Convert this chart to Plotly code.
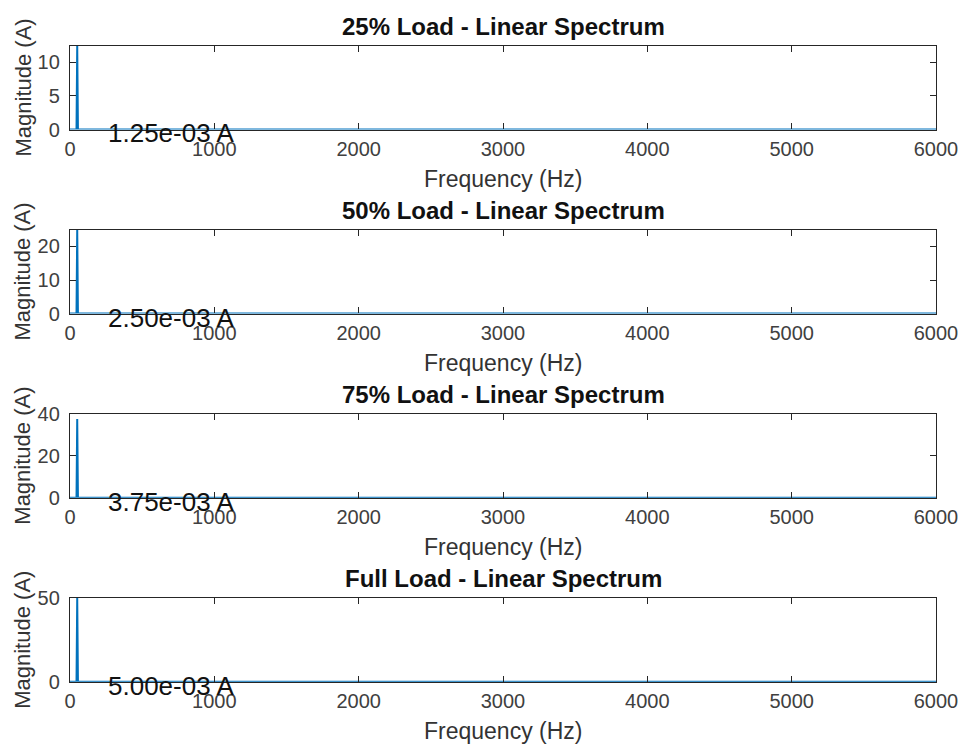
import plotly.graph_objects as go

# ---- data ----
titles = ["25% Load - Linear Spectrum", "50% Load - Linear Spectrum",
          "75% Load - Linear Spectrum", "Full Load - Linear Spectrum"]
freq_hz = [0, 45, 50, 55, 245, 250, 255, 6000]
mag_25 = [0, 0, 12.5, 0, 0, 1.25e-3, 0, 0]
mag_50 = [0, 0, 25.0, 0, 0, 2.50e-3, 0, 0]
mag_75 = [0, 0, 37.5, 0, 0, 3.75e-3, 0, 0]
mag_100 = [0, 0, 50.0, 0, 0, 5.00e-3, 0, 0]
label_freq = [250, 250, 250, 250]
label_mag = [1.25e-3, 2.50e-3, 3.75e-3, 5.00e-3]
label_text = ["1.25e-03 A", "2.50e-03 A", "3.75e-03 A", "5.00e-03 A"]
y_max = [12.5, 25, 40, 50]
y_ticks = [[0, 5, 10], [0, 10, 20], [0, 20, 40], [0, 50]]
x_ticks = [0, 1000, 2000, 3000, 4000, 5000, 6000]
series = [mag_25, mag_50, mag_75, mag_100]

W, H = 963, 744
LEFT, RIGHT = 70, 936
TOP0, PITCH, HEIGHT = 45.5, 184.1, 84.0
FONT = "Liberation Sans, Arial, sans-serif"
AXC = "#262626"

fig = go.Figure()
annotations = []
for i in range(4):
    top = TOP0 + i * PITCH
    bot = top + HEIGHT
    xa = "x" if i == 0 else f"x{i+1}"
    ya = "y" if i == 0 else f"y{i+1}"
    fig.add_trace(go.Scatter(x=freq_hz, y=series[i], mode="lines",
                             line=dict(color="#0072BD", width=2),
                             xaxis=xa, yaxis=ya, showlegend=False,
                             hoverinfo="x+y"))
    xkey = "xaxis" if i == 0 else f"xaxis{i+1}"
    ykey = "yaxis" if i == 0 else f"yaxis{i+1}"
    fig.layout[xkey] = dict(domain=[LEFT / W, RIGHT / W], anchor=ya,
                            range=[0, 6000], tickvals=x_ticks,
                            ticks="inside", ticklen=6, tickcolor=AXC,
                            showline=True, linecolor=AXC, linewidth=1.3,
                            mirror="allticks", showgrid=False, zeroline=False,
                            automargin=False,
                            tickfont=dict(family=FONT, size=20, color="#404040"),
                            ticklabelstandoff=1)
    fig.layout[ykey] = dict(domain=[1 - bot / H, 1 - top / H], anchor=xa,
                            range=[0, y_max[i]], tickvals=y_ticks[i],
                            ticks="inside", ticklen=6, tickcolor=AXC,
                            showline=True, linecolor=AXC, linewidth=1.3,
                            mirror="allticks", showgrid=False, zeroline=False,
                            automargin=False,
                            tickfont=dict(family=FONT, size=20, color="#404040"),
                            ticklabelstandoff=5)
    # title
    annotations.append(dict(text=f"<b>{titles[i]}</b>", xref="paper", yref="paper",
                            x=(LEFT + RIGHT) / 2 / W, y=1 - (top - 19) / H,
                            xanchor="center", yanchor="middle", showarrow=False,
                            font=dict(family=FONT, size=24, color="#111111")))
    # x label
    annotations.append(dict(text="Frequency (Hz)", xref="paper", yref="paper",
                            x=(LEFT + RIGHT) / 2 / W, y=1 - (bot + 49) / H,
                            xanchor="center", yanchor="middle", showarrow=False,
                            font=dict(family=FONT, size=23, color="#333333")))
    # y label
    annotations.append(dict(text="Magnitude (A)", xref="paper", yref="paper",
                            x=23 / W, y=1 - (top + HEIGHT / 2) / H,
                            xanchor="center", yanchor="middle", showarrow=False,
                            textangle=-90,
                            font=dict(family=FONT, size=22, color="#333333")))
    # data label
    annotations.append(dict(text=label_text[i], xref=xa, yref=ya,
                            x=label_freq[i], y=label_mag[i],
                            xanchor="left", yanchor="middle", showarrow=False,
                            yshift=-4,
                            font=dict(family=FONT, size=26, color="#111111")))

fig.update_layout(width=W, height=H, margin=dict(l=0, r=0, t=0, b=0, pad=0),
                  paper_bgcolor="white", plot_bgcolor="white",
                  annotations=annotations)
fig.write_html("out.html", config={"displayModeBar": False},
               post_script="document.body.style.margin='0';"
                           "document.body.style.overflow='hidden';")
